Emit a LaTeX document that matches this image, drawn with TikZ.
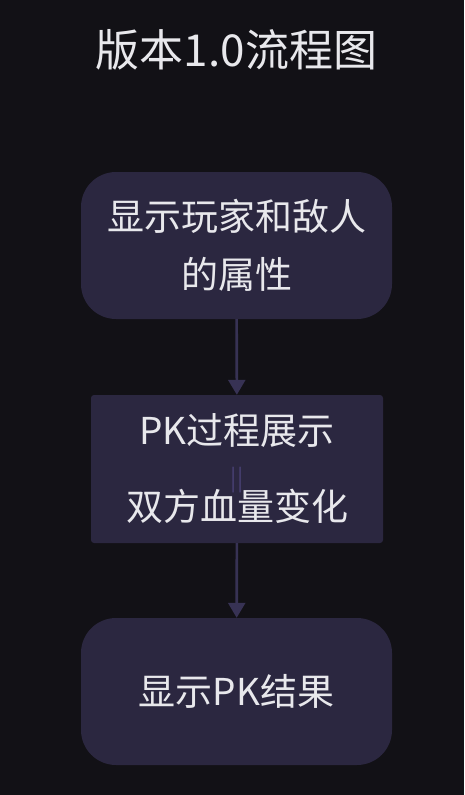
\documentclass[tikz,border=0pt]{standalone}
\usepackage{fontspec}
\setmainfont{Noto Sans CJK SC}
\usepackage{tikz}
\usetikzlibrary{arrows.meta}

\definecolor{bgcol}{RGB}{18,17,22}
\definecolor{boxcol}{RGB}{43,39,64}
\definecolor{linecol}{RGB}{55,50,84}
\definecolor{barcol}{RGB}{72,64,116}
\definecolor{txtcol}{RGB}{232,232,236}

\begin{document}
\begin{tikzpicture}[x=1pt, y=-1pt,
    roundbox/.style={draw=none, fill=boxcol, rounded corners=35pt, minimum width=311pt, minimum height=147pt, text=txtcol, align=center, font=\fontsize{37}{58}\selectfont},
    flatbox/.style={draw=none, fill=boxcol, rounded corners=3pt, minimum width=292pt, minimum height=148pt, text=txtcol, align=center, font=\fontsize{37}{38}\selectfont},
    flow/.style={draw=linecol, line width=2.6pt, -{Triangle[width=17pt, length=15pt]}}]
        \fill[bgcol] (0,0) rectangle (464,795);
        \useasboundingbox (0,0) rectangle (464,795);
        \node[text=txtcol, font=\fontsize{44}{46}\selectfont] (title) at (236.5,50) {版本1.0流程图};
        \node[roundbox] (show) at (236.5,245.5) {显示玩家和敌人\\的属性};
        \node[flatbox] (pk) at (237,469) {PK过程展示\\[4pt]{\color{barcol}\fontsize{23}{23}\selectfont||}\\[-4pt]双方血量变化};
        \node[roundbox] (result) at (236.5,691.5) {显示PK结果};
        \draw[flow] (show) -- (pk);
        \draw[flow] (pk) -- (result);
\end{tikzpicture}
\end{document}
